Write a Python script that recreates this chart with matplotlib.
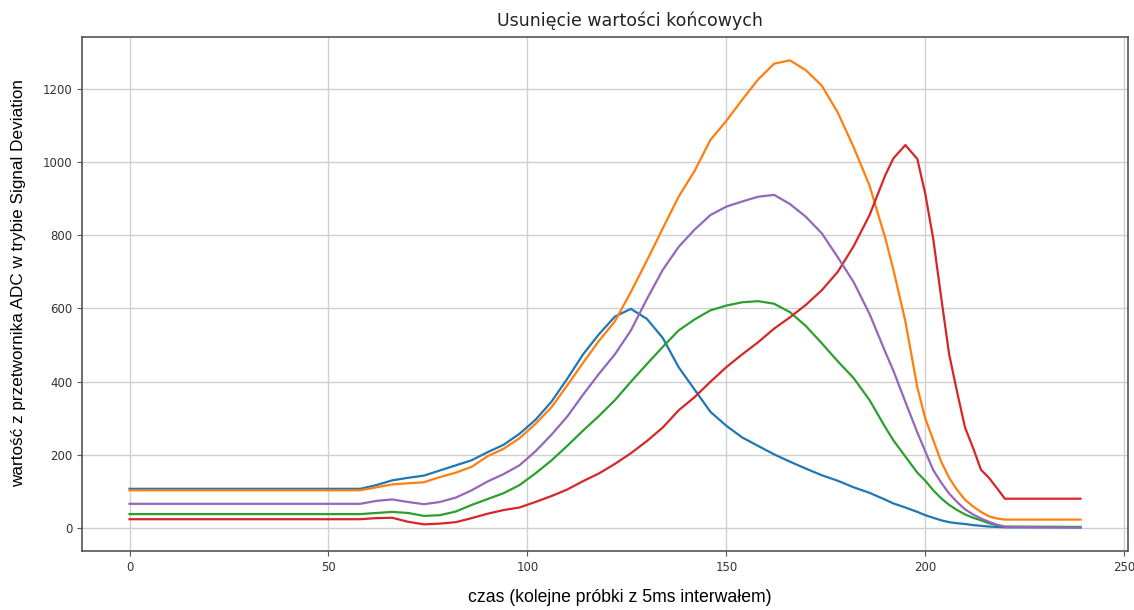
import matplotlib
matplotlib.use("Agg")

import matplotlib.pyplot as plt
import numpy as np

# sample index (5 ms steps)
x = [0, 58, 62, 66, 70, 74, 78, 82, 86, 90, 94, 98, 102, 106, 110, 114, 118, 122, 126, 130,
     134, 138, 142, 146, 150, 154, 158, 162, 166, 170, 174, 178, 182, 186, 190, 192, 195, 198, 200, 202,
     204, 206, 208, 210, 212, 214, 216, 218, 220, 239]

blue = [108, 108, 118, 131, 138, 144, 158, 172, 186, 208, 228, 258, 296, 345, 408, 475, 530, 578, 599, 572,
        520, 440, 379, 318, 280, 248, 225, 202, 182, 163, 145, 130, 112, 97, 78, 68, 57, 45, 36, 29,
        22, 17, 14, 12, 9, 7, 5, 4, 3, 3]

orange = [104, 104, 112, 120, 123, 126, 140, 152, 168, 197, 217, 246, 285, 330, 390, 452, 512, 565, 645, 730,
          818, 905, 975, 1060, 1112, 1170, 1225, 1268, 1277, 1250, 1208, 1135, 1040, 935, 790, 705, 565, 385, 300, 241,
          182, 138, 105, 78, 60, 45, 33, 27, 24, 24]

green = [39, 39, 42, 45, 42, 34, 36, 46, 64, 80, 96, 118, 150, 185, 225, 267, 307, 350, 400, 448,
         495, 540, 570, 595, 608, 617, 620, 613, 590, 552, 505, 456, 410, 350, 275, 240, 196, 152, 130, 104,
         82, 64, 50, 38, 29, 22, 14, 9, 5, 4]

red = [25, 25, 28, 29, 18, 11, 13, 17, 28, 40, 50, 57, 72, 88, 106, 129, 150, 176, 205, 238,
       275, 322, 358, 400, 440, 475, 508, 545, 576, 610, 650, 700, 770, 855, 965, 1010, 1046, 1008, 913, 790,
       630, 475, 372, 275, 220, 160, 138, 110, 81, 81]

purple = [67, 67, 75, 79, 72, 66, 72, 84, 104, 128, 148, 172, 210, 255, 305, 365, 422, 475, 540, 625,
          705, 768, 815, 855, 878, 892, 905, 910, 885, 850, 805, 740, 672, 585, 480, 430, 345, 262, 210, 159,
          125, 95, 72, 52, 38, 27, 18, 10, 4, 2]

fig = plt.figure(figsize=(11.34, 6.1), dpi=100)
ax = fig.add_axes([0.0723, 0.0967, 0.9224, 0.8426])

for series in [blue, orange, green, red, purple]:
    ax.plot(x, series, linewidth=1.6)

ax.grid(True, color='#d0d0d0', linewidth=1.0)
ax.set_axisbelow(True)
for s in ax.spines.values():
    s.set_color('#555555')
    s.set_linewidth(1.2)
ax.tick_params(labelsize=8.5, labelcolor='#333333', color='#555555')

ax.set_title('Usunięcie wartości końcowych', x=0.524, pad=8, fontsize=12.5, color='#222222')

# axis labels placed in figure coordinates
fig.text(0.547, 0.02, 'czas (kolejne próbki z 5ms interwałem)', fontsize=12.7,
         family=['Liberation Sans', 'DejaVu Sans'], ha='center', va='center')
fig.text(0.016, 0.536, 'wartość z przetwornika ADC w trybie Signal Deviation', fontsize=12.3,
         family=['Liberation Sans', 'DejaVu Sans'], ha='center', va='center', rotation=90)

plt.savefig('out.png', dpi=100)
